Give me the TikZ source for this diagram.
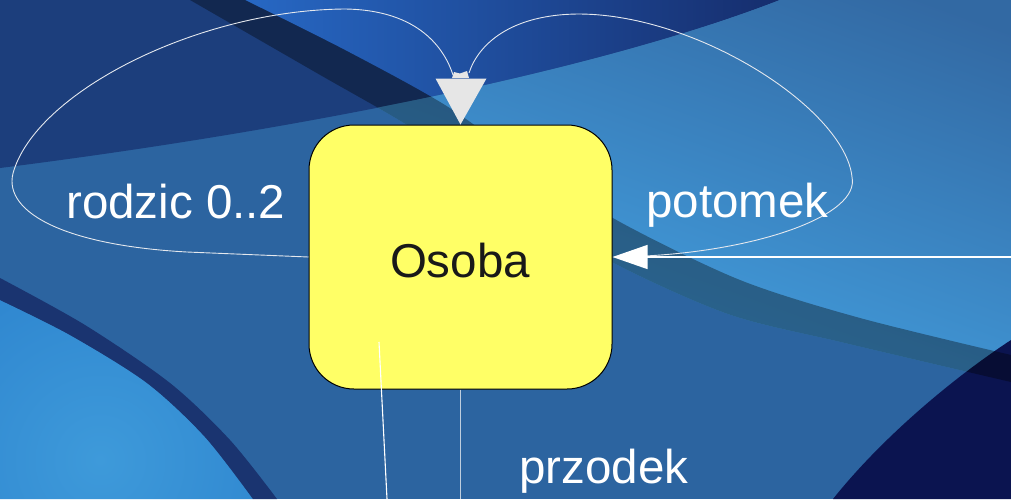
\documentclass[tikz,border=0pt]{standalone}
\usepackage{fontspec}
\setmainfont{Liberation Sans}
\usetikzlibrary{arrows.meta}

\definecolor{bgsteel}{HTML}{2C64A0}
\definecolor{bgnavy}{HTML}{1C3E7C}
\definecolor{bgbright}{HTML}{2768C4}
\definecolor{bgdeep}{HTML}{152B6A}
\definecolor{bglight}{HTML}{43A0E0}
\definecolor{bgpale}{HTML}{3E9ADA}
\definecolor{bgpaleout}{HTML}{2A80CC}
\definecolor{bgink}{HTML}{0B1450}
\definecolor{bgring}{HTML}{1A3470}
\definecolor{boxfill}{HTML}{FFFF66}
\definecolor{tipgrey}{HTML}{E6E6E6}
\definecolor{wirewhite}{HTML}{E4E8EE}

\tikzset{
  classbox/.style={draw=black, line width=1pt, fill=boxfill, rounded corners=45pt,
    minimum width=303pt, minimum height=264pt, inner sep=0pt,
    font=\fontsize{47.5}{50}\selectfont, text=black!90},
  rolelabel/.style={text=white, font=\fontsize{47.5}{50}\selectfont, inner sep=0pt},
  wire/.style={draw=wirewhite, line width=0.9pt},
  mainwire/.style={draw=white, line width=1.3pt}
}

\begin{document}
\begin{tikzpicture}[x=1pt, y=-1pt]
\useasboundingbox (0,0) rectangle (1011,499);
\clip (0,0) rectangle (1011,499);

% ---- backdrop ----
\fill[bgsteel] (0,0) rectangle (1011,499);

% region above the sweeping arc
\begin{scope}
  \clip (0,0) -- (0,168) .. controls (300,130) and (600,70) .. (780,0) -- cycle;
  \fill[bgnavy] (0,0) rectangle (1011,499);
  \shade[left color=bgbright, right color=bgdeep, shading angle=90]
    plot[smooth] coordinates {(245,0) (345,50) (445,105) (530,165)}
    -- (800,165) -- (800,0) -- cycle;
\end{scope}

% light region below the arc, down to the lower edge of the dark streak
\begin{scope}
  \clip (0,168) .. controls (300,130) and (600,70) .. (780,0) -- (1011,0) -- (1011,499) -- (0,499) -- cycle;
  \clip plot[smooth] coordinates {(190,0) (315,72) (415,130) (505,195) (608,260) (728,314) (845,343) (1011,382)}
    -- (1011,0) -- cycle;
  \fill[bgsteel!97!white] (0,0) rectangle (1011,499);
  \begin{scope}[transform canvas={rotate around={-20:(700,290)}}]
    \shade[top color=bgsteel!97!white, bottom color=bglight] (-300,-60) rectangle (1500,380);
  \end{scope}
\end{scope}

% lower left pale disc with its navy rim
\begin{scope}
  \clip plot[smooth] coordinates {(0,300) (70,335) (147,383) (205,437) (253,499)} -- (0,499) -- cycle;
  \shade[inner color=bgpale, outer color=bgpaleout] (100,460) circle (260);
\end{scope}
\fill[bgring] plot[smooth] coordinates {(0,278) (85,325) (170,383) (230,440) (277,499)}
  -- plot[smooth] coordinates {(253,499) (205,437) (147,383) (70,335) (0,300)} -- cycle;

% lower right ink region
\fill[bgink] (833,499) .. controls (880,440) and (950,380) .. (1011,340) -- (1011,499) -- cycle;

% translucent dark streak
\fill[black, opacity=0.35]
  plot[smooth] coordinates {(245,0) (345,50) (445,105) (530,165) (620,222) (740,280) (860,318) (1011,355)}
  -- plot[smooth] coordinates {(1011,382) (845,343) (728,314) (608,260) (505,195) (415,130) (315,72) (190,0)}
  -- cycle;

% ---- diagram ----
\coordinate (rightend) at (1011,257);
\coordinate (looptipL) at (453,75);
\coordinate (looptipR) at (469,73);
\coordinate (loopfoot) at (645,256);
\coordinate (lowA) at (379,342);
\coordinate (lowAend) at (387,499);
\coordinate (lowBend) at (460,499);

\node[classbox] (osoba) at (460.5,257) {};
\node[anchor=base, font=\fontsize{47.5}{50}\selectfont, text=black!90, inner sep=0pt]
  (osobaname) at (460,277) {Osoba};

% self loop on the left
\draw[wire] (osoba.west) -- (187,252)
  .. controls (60,245) and (0,210) .. (14,170)
  .. controls (40,90) and (200,10) .. (345,9)
  .. controls (420,10) and (445,50) .. (looptipL);

% self loop on the right
\draw[wire] (loopfoot) .. controls (760,250) and (860,215) .. (852,177)
  .. controls (845,110) and (700,15) .. (580,14)
  .. controls (510,14) and (478,45) .. (looptipR);

% incoming association from the right
\draw[mainwire, -{Triangle[length=35pt, width=24pt]}] (rightend) -- (osoba.east);

% arrowhead on the top edge
\fill[tipgrey] (452,78) -- (454,72) -- (460,73.5) -- (467,71) -- (469,78) -- cycle;
\fill[tipgrey] (osoba.north) -- ++(-25,-46) -- ++(51,0) -- cycle;

% lines leaving downwards
\draw[mainwire, line width=1.1pt] (lowA) -- (lowAend);
\draw[draw=wirewhite!80!bgsteel, line width=1pt] (osoba.south -| lowBend) -- (lowBend);

% role names
\node[rolelabel, anchor=base west] (rodzic) at (66,218) {rodzic 0..2};
\node[rolelabel, anchor=base west] (potomek) at (646,217) {potomek};
\node[rolelabel, anchor=base west] (przodek) at (519,483) {przodek};
\end{tikzpicture}
\end{document}
